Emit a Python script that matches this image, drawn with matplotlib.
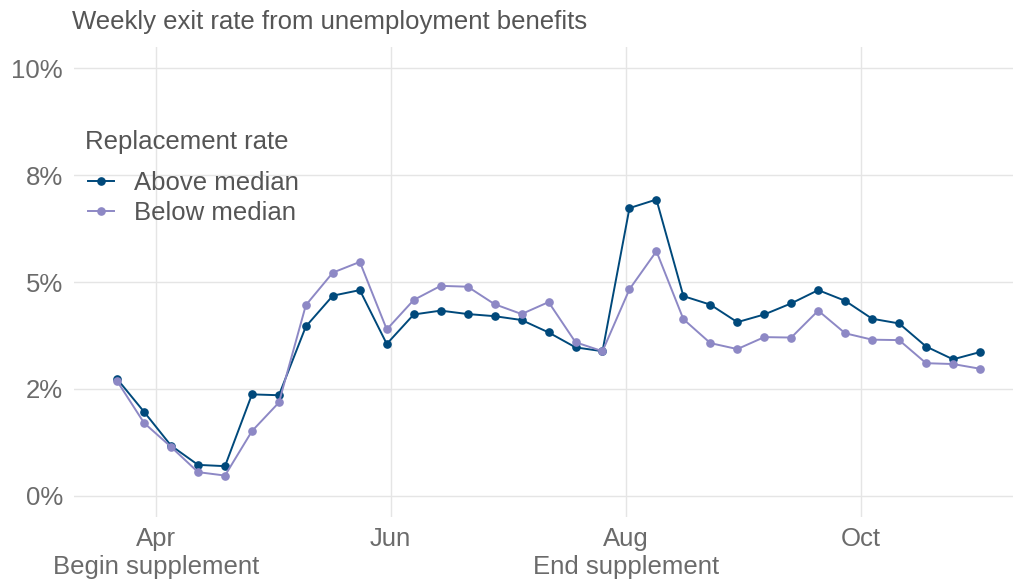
import matplotlib
matplotlib.use("Agg")
import matplotlib.pyplot as plt
import matplotlib.dates as mdates
import numpy as np
import datetime as dt

plt.rcParams['font.family'] = ['Liberation Sans', 'DejaVu Sans']

start_date = dt.date(2020, 3, 22)
n_weeks = 33
dates = [start_date + dt.timedelta(days=7 * i) for i in range(n_weeks)]

above_median = [2.73, 1.96, 1.17, 0.72, 0.69, 2.37, 2.35, 3.96, 4.68, 4.81,
                3.55, 4.24, 4.33, 4.25, 4.20, 4.11, 3.82, 3.47, 3.38, 6.73,
                6.93, 4.67, 4.47, 4.06, 4.24, 4.50, 4.81, 4.56, 4.14, 4.03,
                3.49, 3.19, 3.36]
below_median = [2.68, 1.70, 1.14, 0.55, 0.47, 1.51, 2.18, 4.46, 5.22, 5.47,
                3.89, 4.58, 4.91, 4.89, 4.48, 4.25, 4.53, 3.59, 3.38, 4.83,
                5.72, 4.13, 3.57, 3.43, 3.71, 3.70, 4.33, 3.80, 3.65, 3.64,
                3.10, 3.08, 2.97]

series_names = ["Above median", "Below median"]
series_colors = ["#00497B", "#8D88C5"]

y_ticks = [0, 2.5, 5, 7.5, 10]
y_tick_labels = ["0%", "2%", "5%", "8%", "10%"]
x_tick_dates = [dt.date(2020, 4, 1), dt.date(2020, 6, 1), dt.date(2020, 8, 1), dt.date(2020, 10, 1)]
x_tick_labels = ["Apr\nBegin supplement", "Jun", "Aug\nEnd supplement", "Oct"]

FS = 18.5
W, H = 1013, 586
fig = plt.figure(figsize=(W / 100, H / 100), dpi=100)
px_per_day = 3.852
pad_days = 11.2
span_days = (dates[-1] - dates[0]).days + 2 * pad_days
ax_left = 74
ax_top = 47
ax_bottom = 517
ax_w = span_days * px_per_day
ax = fig.add_axes([ax_left / W, 1 - ax_bottom / H, ax_w / W, (ax_bottom - ax_top) / H])

for vals, name, col in zip([above_median, below_median], series_names, series_colors):
    ax.plot(dates, vals, color=col, lw=1.4, marker='o', markersize=5.2, label=name, zorder=3)

ax.set_xlim(mdates.date2num(dates[0]) - pad_days, mdates.date2num(dates[-1]) + pad_days)
ax.set_ylim(-0.5, 10.5)
ax.set_yticks(y_ticks)
ax.set_yticklabels(y_tick_labels)
ax.set_xticks([mdates.date2num(d) for d in x_tick_dates])
ax.set_xticklabels(x_tick_labels)

for s in ax.spines.values():
    s.set_visible(False)
ax.grid(True, color="#E5E5E5", lw=1.0, zorder=0)
ax.set_axisbelow(True)
ax.tick_params(axis='both', length=0, labelsize=FS, colors="#6B6B6B")
ax.tick_params(axis='x', pad=7)
ax.tick_params(axis='y', pad=8)
for lab in ax.get_xticklabels():
    lab.set_linespacing(1.2)

fig.text(72 / W, 1 - 22 / H, "Weekly exit rate from unemployment benefits",
         fontsize=FS, color="#555555", va='center', ha='left')

fig.text(85 / W, 1 - 142 / H, "Replacement rate",
         fontsize=FS, color="#555555", va='center', ha='left')

leg = ax.legend(loc='upper left', bbox_to_anchor=(88 / W, 1 - 171 / H),
                bbox_transform=fig.transFigure, frameon=False,
                fontsize=FS, handlelength=1.0, handletextpad=0.8,
                labelspacing=0.25, borderaxespad=0, borderpad=0)
for t in leg.get_texts():
    t.set_color("#555555")

fig.savefig("out.png", dpi=100)
